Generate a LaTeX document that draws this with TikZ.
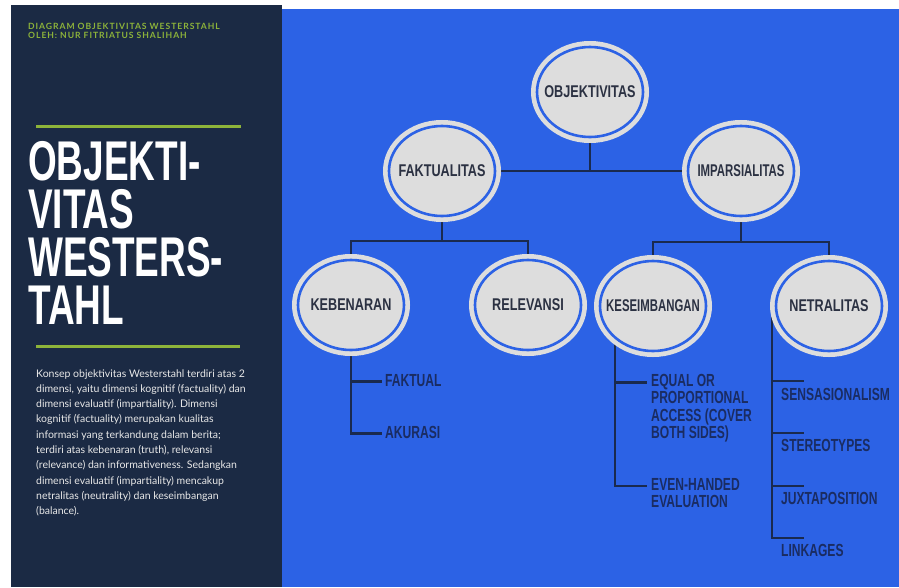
\documentclass[tikz,border=0pt]{standalone}
\usepackage{fontspec}
\usetikzlibrary{shapes.geometric}

% Faces: condensed sans for the title and labels, Lato for the side text
\newfontfamily\titlefont[FakeStretch=0.66]{Liberation Sans Bold}
\newfontfamily\labelfont[FakeStretch=0.745]{Liberation Sans Bold}
\newfontfamily\tightlabelfont[FakeStretch=0.67]{Liberation Sans Bold}
\newfontfamily\leaffont[FakeStretch=0.69]{Liberation Sans Bold}
\newfontfamily\headfont[LetterSpace=11]{Lato Bold}
\newfontfamily\bodyfont{Lato}

\definecolor{panelnavy}{HTML}{1B2A44}
\definecolor{royal}{HTML}{2C62E5}
\definecolor{bubblegray}{HTML}{DDDDDD}
\definecolor{labelink}{HTML}{2B3142}
\definecolor{leafink}{HTML}{1A2C62}
\definecolor{wireink}{HTML}{1A2A4E}
\definecolor{accent}{HTML}{8DB33A}
\definecolor{bodyink}{HTML}{E8E8E8}

\pgfdeclarelayer{bg}
\pgfdeclarelayer{wires}
\pgfsetlayers{bg,wires,main}

\begin{document}
\begin{tikzpicture}[x=1pt,y=-1pt,
  bubble/.style={ellipse, minimum width=106pt, minimum height=90pt,
    inner xsep=-20pt, inner ysep=0pt,
    fill=bubblegray, draw=royal, line width=2.6pt,
    preaction={draw=bubblegray, line width=12pt},
    font=\labelfont\fontsize{17}{20}\selectfont, text=labelink},
  longword/.style={font=\tightlabelfont\fontsize{17}{20}\selectfont},
  wire/.style={draw=wireink, line width=2.8pt},
  leaf/.style={anchor=base west, inner xsep=3pt, inner ysep=0pt,
    text height=12.5pt, text depth=4pt,
    font=\leaffont\fontsize{17.5}{17.2}\selectfont, text=leafink},
  leafblock/.style={anchor=base west, inner xsep=4pt, inner ysep=0pt,
    font=\leaffont\fontsize{17.5}{17.2}\selectfont, text=leafink},
  rule/.style={draw=accent, line width=3pt},
]
\useasboundingbox (0,0) rectangle (899,587);

% backdrop: white page, navy side panel, blue diagram field
\begin{pgfonlayer}{bg}
  \fill[white] (0,0) rectangle (899,587);
  \fill[panelnavy] (11,5) rectangle (282,587);
  \fill[royal] (282,8.5) rectangle (899,587);
\end{pgfonlayer}

% side panel
\node[anchor=base west, inner sep=0pt, text=accent,
      font=\headfont\fontsize{8.6}{9.6}\selectfont] (head) at (28,29.3)
  {\parbox[t]{250pt}{DIAGRAM OBJEKTIVITAS WESTERSTAHL\\OLEH: NUR FITRIATUS SHALIHAH}};
\draw[rule] (36,126) -- (241,126);
\node[anchor=base west, inner sep=0pt, text=white,
      font=\titlefont\fontsize{56}{48}\selectfont] (title) at (28,180)
  {\parbox[t]{250pt}{OBJEKTI-\\VITAS\\WESTERS-\\TAHL}};
\draw[rule] (36,346) -- (240,346);
\node[anchor=base west, inner sep=0pt, text=bodyink,
      font=\bodyfont\fontsize{10.5}{15.33}\selectfont] (body) at (36,377)
  {\parbox[t]{240pt}{Konsep objektivitas Westerstahl terdiri atas 2\\
   dimensi, yaitu dimensi kognitif (factuality) dan\\
   dimensi evaluatif (impartiality). Dimensi\\
   kognitif (factuality) merupakan kualitas\\
   informasi yang terkandung dalam berita;\\
   terdiri atas kebenaran (truth), relevansi\\
   (relevance) dan informativeness. Sedangkan\\
   dimensi evaluatif (impartiality) mencakup\\
   netralitas (neutrality) dan keseimbangan\\
   (balance).}};

% concept bubbles
\node[bubble] (obj)  at (590,92)  {OBJEKTIVITAS};
\node[bubble] (fakt) at (442,171) {FAKTUALITAS};
\node[bubble, longword] (imp) at (741,171) {IMPARSIALITAS};
\node[bubble] (keb)  at (351,305) {KEBENARAN};
\node[bubble] (rel)  at (528,305) {RELEVANSI};
\node[bubble, longword] (kes) at (653,306) {KESEIMBANGAN};
\node[bubble] (net)  at (829,306) {NETRALITAS};

% indicator labels
\node[leaf] (faktual) at (382,386) {FAKTUAL};
\node[leaf] (akurasi) at (382,438) {AKURASI};
\node[leafblock] (equal) at (647,386.7)
  {\parbox[t]{130pt}{EQUAL OR\\PROPORTIONAL\\ACCESS (COVER\\BOTH SIDES)}};
\node[leafblock] (even) at (647,490.7)
  {\parbox[t]{130pt}{EVEN-HANDED\\EVALUATION}};
\node[leaf] (sens)  at (778,400) {SENSASIONALISM};
\node[leaf] (stereo) at (778,451) {STEREOTYPES};
\node[leaf] (juxta) at (778,504) {JUXTAPOSITION};
\node[leaf] (link)  at (778,556) {LINKAGES};

% branch points
\coordinate (fbar) at (442,241);
\coordinate (ibar) at (741,242);
\coordinate (kesv) at (615,330);
\coordinate (netv) at (772,306);
\coordinate (n1) at (804,381);
\coordinate (n2) at (804,433);
\coordinate (n3) at (804,486);
\coordinate (n4) at (804,538);

\begin{pgfonlayer}{wires}
  \draw[wire] (obj) -- (obj |- fakt);
  \draw[wire] (fakt) -- (imp);
  \draw[wire] (fakt) -- (fbar);
  \draw[wire] (keb) |- (fbar) -| (rel);
  \draw[wire] (imp) -- (ibar);
  \draw[wire] (kes) |- (ibar) -| (net);
  \draw[wire] (keb) |- (faktual);
  \draw[wire] (keb) |- (akurasi);
  \draw[wire] (kesv) |- ([yshift=4pt]equal.base west);
  \draw[wire] (kesv) |- ([yshift=4.7pt]even.base west);
  \draw[wire] (netv) |- (n1);
  \draw[wire] (netv) |- (n2);
  \draw[wire] (netv) |- (n3);
  \draw[wire] (netv) |- (n4);
\end{pgfonlayer}
\end{tikzpicture}
\end{document}
